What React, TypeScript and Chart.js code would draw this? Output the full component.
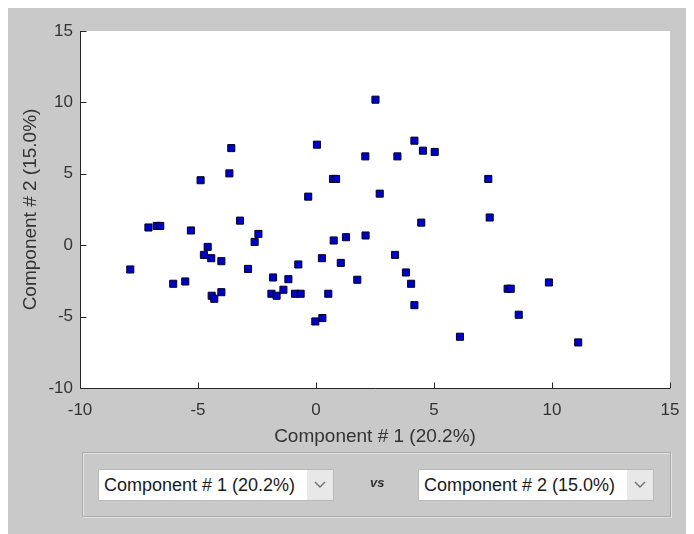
import React, { useEffect, useRef } from "react";
import { Chart, registerables } from "chart.js";

Chart.register(...registerables);

// ---- data ----
const xValues = [
  -7.87, -7.1, -6.75, -6.6, -6.05, -5.54, -5.3, -4.89, -4.75, -4.59, -4.44, -4.42, -4.31, -4.01, -4.01,
  -3.67, -3.59, -3.22, -2.88, -2.6, -2.44, -1.89, -1.82, -1.67, -1.38, -1.17, -0.89, -0.65, -0.75, -0.33,
  -0.03, 0.04, 0.25, 0.27, 0.52, 0.75, 0.72, 0.85, 1.05, 1.27, 1.75, 2.09, 2.1, 2.52, 2.7,
  3.35, 3.45, 3.81, 4.03, 4.17, 4.17, 4.46, 4.53, 5.03, 6.1, 7.3, 7.36, 8.12, 8.25, 8.59, 9.87, 11.11,
];
const yValues = [
  -1.7, 1.24, 1.35, 1.35, -2.7, -2.54, 1.03, 4.55, -0.68, -0.12, -0.91, -3.54, -3.75, -1.12, -3.29,
  5.03, 6.8, 1.72, -1.66, 0.23, 0.79, -3.4, -2.26, -3.54, -3.12, -2.38, -3.4, -3.4, -1.35, 3.4,
  -5.34, 7.04, -0.91, -5.1, -3.4, 0.33, 4.64, 4.64, -1.24, 0.56, -2.42, 6.22, 0.68, 10.19, 3.61,
  -0.68, 6.22, -1.91, -2.7, -4.2, 7.32, 1.58, 6.62, 6.53, -6.41, 4.64, 1.94, -3.05, -3.05, -4.87, -2.61, -6.81,
];
const xTicks = [-10, -5, 0, 5, 10, 15];
const yTicks = [-10, -5, 0, 5, 10, 15];
const xTitle = "Component # 1 (20.2%)";
const yTitle = "Component # 2 (15.0%)";
const leftChoice = "Component # 1 (20.2%)";
const rightChoice = "Component # 2 (15.0%)";
const vsText = "vs";

const FONT = "'Liberation Sans', Arial, Helvetica, sans-serif";
const TEXT = "#333333";
const AXIS = "#262626";

const axesPlugin = {
  id: "matlabAxes",
  beforeDraw(chart: any) {
    const { ctx, chartArea: a } = chart;
    ctx.save();
    ctx.fillStyle = "#ffffff";
    ctx.fillRect(a.left, a.top, a.right - a.left, a.bottom - a.top);
    ctx.restore();
  },
  beforeDatasetsDraw(chart: any) {
    const { ctx, chartArea: a, scales } = chart;
    ctx.save();
    ctx.strokeStyle = AXIS;
    ctx.lineWidth = 1;
    const L = Math.round(a.left) + 0.5;
    const B = Math.round(a.bottom) + 0.5;
    ctx.beginPath();
    ctx.moveTo(L, a.top);
    ctx.lineTo(L, B);
    ctx.lineTo(a.right, B);
    for (const v of xTicks) {
      const px = Math.round(scales.x.getPixelForValue(v)) + 0.5;
      ctx.moveTo(px, B);
      ctx.lineTo(px, B - 6);
    }
    for (const v of yTicks) {
      const py = Math.round(scales.y.getPixelForValue(v)) + 0.5;
      ctx.moveTo(L, py);
      ctx.lineTo(L + 6, py);
    }
    ctx.stroke();
    ctx.restore();
  },
};

function Dropdown({ text, left }: { text: string; left: number }) {
  return (
    <div
      style={{
        position: "absolute",
        left,
        top: 16,
        width: 236,
        height: 32,
        background: "#ffffff",
        border: "1px solid #b9b9b9",
        boxSizing: "border-box",
        display: "flex",
        alignItems: "center",
      }}
    >
      <div
        style={{
          flex: 1,
          paddingLeft: 5,
          fontSize: 18,
          color: "#1a1a1a",
          whiteSpace: "nowrap",
          fontFamily: FONT,
        }}
      >
        {text}
      </div>
      <div
        style={{
          width: 26,
          height: "100%",
          background: "#e8e8e8",
          display: "flex",
          alignItems: "center",
          justifyContent: "center",
        }}
      >
        <svg width="12" height="8" viewBox="0 0 12 8">
          <polyline points="1,1 6,6 11,1" fill="none" stroke="#707070" strokeWidth="1.4" />
        </svg>
      </div>
    </div>
  );
}

export default function App() {
  const canvasRef = useRef<HTMLCanvasElement | null>(null);

  useEffect(() => {
    const canvas = canvasRef.current;
    if (!canvas) return;
    const points = xValues.map((x, i) => ({ x, y: yValues[i] }));
    const chart = new Chart(canvas, {
      type: "scatter",
      data: {
        datasets: [
          {
            data: points,
            pointStyle: "rect",
            pointRadius: 5,
            pointBackgroundColor: "#0000c4",
            pointBorderColor: "#00002a",
            pointBorderWidth: 1,
          },
        ],
      },
      options: {
        responsive: false,
        animation: false,
        devicePixelRatio: 1,
        layout: { padding: { top: 23, right: 24, bottom: 0, left: 0 } },
        plugins: { legend: { display: false }, tooltip: { enabled: false } },
        scales: {
          x: {
            type: "linear",
            min: -10,
            max: 15,
            afterBuildTicks: (s: any) => {
              s.ticks = xTicks.map((v) => ({ value: v }));
            },
            afterFit: (s: any) => {
              s.height = 70;
            },
            grid: { display: false, drawTicks: false },
            border: { display: false },
            ticks: { color: TEXT, font: { family: FONT, size: 17 }, padding: 12, maxRotation: 0 },
            title: {
              display: true,
              text: xTitle,
              color: TEXT,
              font: { family: FONT, size: 19 },
              padding: { top: 0, bottom: 10 },
            },
          },
          y: {
            type: "linear",
            min: -10,
            max: 15,
            afterBuildTicks: (s: any) => {
              s.ticks = yTicks.map((v) => ({ value: v }));
            },
            afterFit: (s: any) => {
              s.width = 72;
            },
            grid: { display: false, drawTicks: false },
            border: { display: false },
            ticks: { color: TEXT, font: { family: FONT, size: 17 }, padding: 7 },
            title: {
              display: true,
              text: yTitle,
              color: TEXT,
              font: { family: FONT, size: 19 },
              padding: { top: 11, bottom: 0 },
            },
          },
        },
      },
      plugins: [axesPlugin],
    } as any);
    return () => chart.destroy();
  }, []);

  return (
    <div
      style={{
        position: "relative",
        width: 686,
        height: 526,
        background: "#c9c9c9",
        fontFamily: FONT,
      }}
    >
      <canvas
        ref={canvasRef}
        width={686}
        height={450}
        style={{ position: "absolute", left: 0, top: 0, width: 686, height: 450 }}
      />
      <div
        style={{
          position: "absolute",
          left: 74,
          top: 444,
          width: 589,
          height: 65,
          border: "1px solid #aaaaaa",
          boxShadow: "inset 1px 1px 0 #e2e2e2, 1px 1px 0 #e2e2e2",
          boxSizing: "border-box",
        }}
      >
        <Dropdown text={leftChoice} left={15} />
        <div
          style={{
            position: "absolute",
            left: 287,
            top: 22,
            fontSize: 13,
            fontWeight: "bold",
            fontStyle: "italic",
            color: "#333",
            fontFamily: FONT,
          }}
        >
          {vsText}
        </div>
        <Dropdown text={rightChoice} left={335} />
      </div>
    </div>
  );
}
